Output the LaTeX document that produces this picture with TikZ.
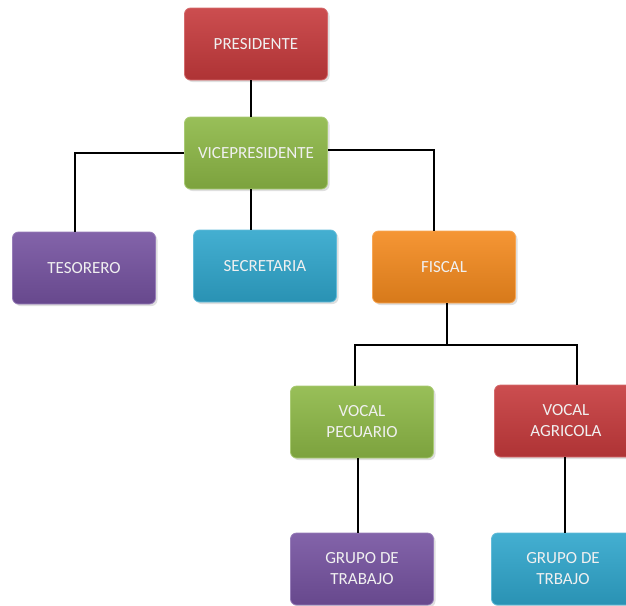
\documentclass[tikz,border=0pt]{standalone}
\usepackage{fontspec}
\setmainfont{Carlito}
\usetikzlibrary{shadows}

\definecolor{boxred}{HTML}{C63A3C}
\definecolor{boxgreen}{HTML}{8DB846}
\definecolor{boxpurple}{HTML}{7552A0}
\definecolor{boxcyan}{HTML}{2FA6CC}
\definecolor{boxorange}{HTML}{F48A1E}

\tikzset{
  orgbox/.style={
    rounded corners=6pt, minimum width=143pt, minimum height=72pt,
    text=white!94!black, align=center, font=\fontsize{17}{21}\selectfont,
    draw=#1!75!white, line width=0.8pt,
    top color=#1!90!white, bottom color=#1!88!black,
    drop shadow={opacity=0.25, shadow xshift=2pt, shadow yshift=-2pt}},
  link/.style={line width=2pt, black}
}

\begin{document}
\begin{tikzpicture}[x=1pt, y=-1pt]
  \useasboundingbox (0,0) rectangle (626,605);
  \clip (0,0) rectangle (626,605);

  % boxes
  \node[orgbox=boxred]    (pres) at (256,44)    {PRESIDENTE};
  \node[orgbox=boxgreen]  (vice) at (256,153)   {VICEPRESIDENTE};
  \node[orgbox=boxpurple] (tes)  at (84,268)    {TESORERO};
  \node[orgbox=boxcyan]   (sec)  at (265,266)   {SECRETARIA};
  \node[orgbox=boxorange] (fis)  at (444,267)   {FISCAL};
  \node[orgbox=boxgreen]  (pec)  at (362,422)   {VOCAL\\PECUARIO};
  \node[orgbox=boxred]    (agr)  at (566,421)   {VOCAL\\AGRICOLA};
  \node[orgbox=boxpurple] (gt1)  at (362,569)   {GRUPO DE\\TRABAJO};
  \node[orgbox=boxcyan]   (gt2)  at (563,569)   {GRUPO DE\\TRBAJO};

  % connectors
  \coordinate (split) at (447,345);
  \draw[link] ([xshift=-5pt]pres.south) -- ([xshift=-5pt]vice.north);
  \draw[link] (vice.west) -| ([xshift=-9pt]tes.north);
  \draw[link] ([xshift=-5pt]vice.south) -- ([xshift=-14pt]sec.north);
  \draw[link] ([yshift=3pt]vice.east) -| ([xshift=-10pt]fis.north);
  \draw[link] ([xshift=3pt]fis.south) -- (split);
  \draw[link] (split) -| ([xshift=-7pt]pec.north);
  \draw[link] (split) -| ([xshift=11pt]agr.north);
  \draw[link] ([xshift=-4pt]pec.south) -- ([xshift=-4pt]gt1.north);
  \draw[link] ([xshift=-1pt]agr.south) -- ([xshift=2pt]gt2.north);
\end{tikzpicture}
\end{document}
